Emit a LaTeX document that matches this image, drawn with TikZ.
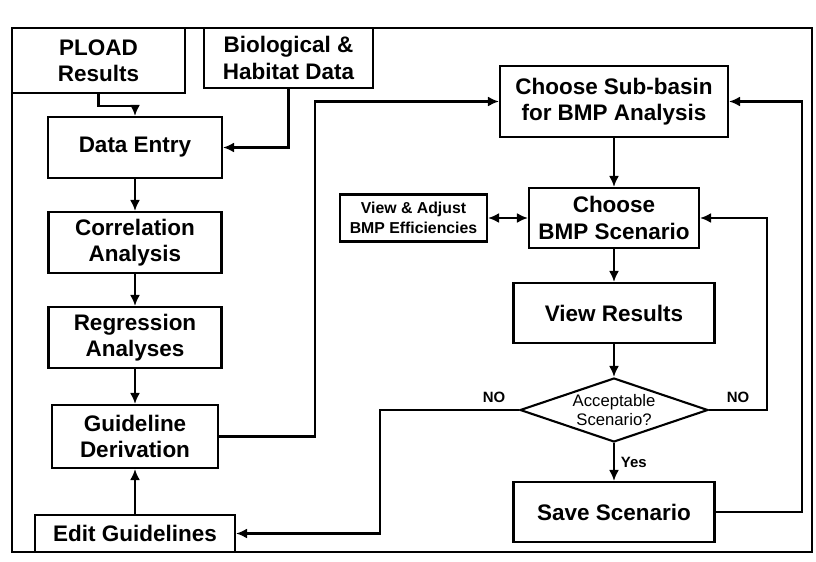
\documentclass[tikz,border=0pt]{standalone}
\usepackage{fontspec}
\setmainfont{Liberation Sans}
\usetikzlibrary{arrows.meta,shapes.geometric}

\begin{document}
\begin{tikzpicture}[x=0.02cm,y=-0.02cm,line width=1.2pt,>={Latex[length=2.2mm,width=2mm]},
  caja/.style={draw,align=center,inner sep=1pt,font=\fontsize{12.8}{15}\selectfont\bfseries},
  rombo/.style={draw,shape=diamond,aspect=2.94,inner sep=0pt,minimum width=3.76cm,minimum height=1.28cm,align=center,font=\fontsize{9.5}{11}\selectfont},
  etiq/.style={font=\fontsize{8.5}{9}\selectfont\bfseries}]
  \useasboundingbox (0,0) rectangle (816,562);
  % marco exterior
  \draw (12,28) rectangle (812,552);
  % columna izquierda: datos y guias
  \node[caja,minimum width=3.46cm,minimum height=1.30cm] (pload) at (98.5,60.5) {PLOAD\\Results};
  \node[caja,minimum width=3.38cm,minimum height=1.20cm] (bio) at (288.5,58) {Biological \&\\Habitat Data};
  \node[caja,minimum width=3.48cm,minimum height=1.22cm] (entry) at (135,147.5) {Data Entry};
  \node[caja,minimum width=3.46cm,minimum height=1.22cm] (corr) at (135,242.5) {Correlation\\Analysis};
  \node[caja,minimum width=3.46cm,minimum height=1.22cm] (regr) at (135,337.5) {Regression\\Analyses};
  \node[caja,minimum width=3.32cm,minimum height=1.26cm] (guide) at (135,436.5) {Guideline\\Derivation};
  \node[caja,minimum width=4.00cm,minimum height=0.74cm] (edit) at (135,533.5) {Edit Guidelines};
  % columna derecha: escenarios BMP
  \node[caja,minimum width=4.56cm,minimum height=1.42cm] (sub) at (614,101.5) {Choose Sub-basin\\for BMP Analysis};
  \node[caja,minimum width=3.40cm,minimum height=1.20cm] (bmp) at (614,218) {Choose\\BMP Scenario};
  \node[caja,minimum width=2.94cm,minimum height=0.94cm,font=\fontsize{9}{11}\selectfont\bfseries] (view) at (413.5,218) {View \& Adjust\\BMP Efficiencies};
  \node[caja,minimum width=4.02cm,minimum height=1.20cm] (res) at (614,313) {View Results};
  \node[rombo] (dec) at (614,410) {Acceptable\\Scenario?};
  \node[caja,minimum width=4.02cm,minimum height=1.20cm] (save) at (614,512) {Save Scenario};
  % puntos de quiebre de los lazos
  \coordinate (gcodo) at (315,0);
  \coordinate (lcodo) at (380,0);
  \coordinate (rcodo) at (767,0);
  \coordinate (ocodo) at (802,0);
  % flechas
  \draw[->] (pload.south) -- ++(0,12) -| (entry.north);
  \draw[->] (bio.south) |- (entry.east);
  \draw[->] (entry) -- (corr);
  \draw[->] (corr) -- (regr);
  \draw[->] (regr) -- (guide);
  \draw[->] (edit) -- (guide);
  \draw[->] (guide.east) -- (guide.east -| gcodo) |- (sub.west);
  \draw[->] (sub) -- (bmp);
  \draw[<->] (view) -- (bmp);
  \draw[->] (bmp) -- (res);
  \draw[->] (res) -- (dec);
  \draw[->] (dec) -- node[etiq,right]{Yes} (save);
  \draw[->] (dec.east) -- node[etiq,above]{NO} (dec.east -| rcodo) |- (bmp.east);
  \draw[->] (dec.west) -- node[etiq,above,pos=0.18]{NO} (dec.west -| lcodo) |- (edit.east);
  \draw[->] (save.east) -- (save.east -| ocodo) |- (sub.east);
\end{tikzpicture}
\end{document}
